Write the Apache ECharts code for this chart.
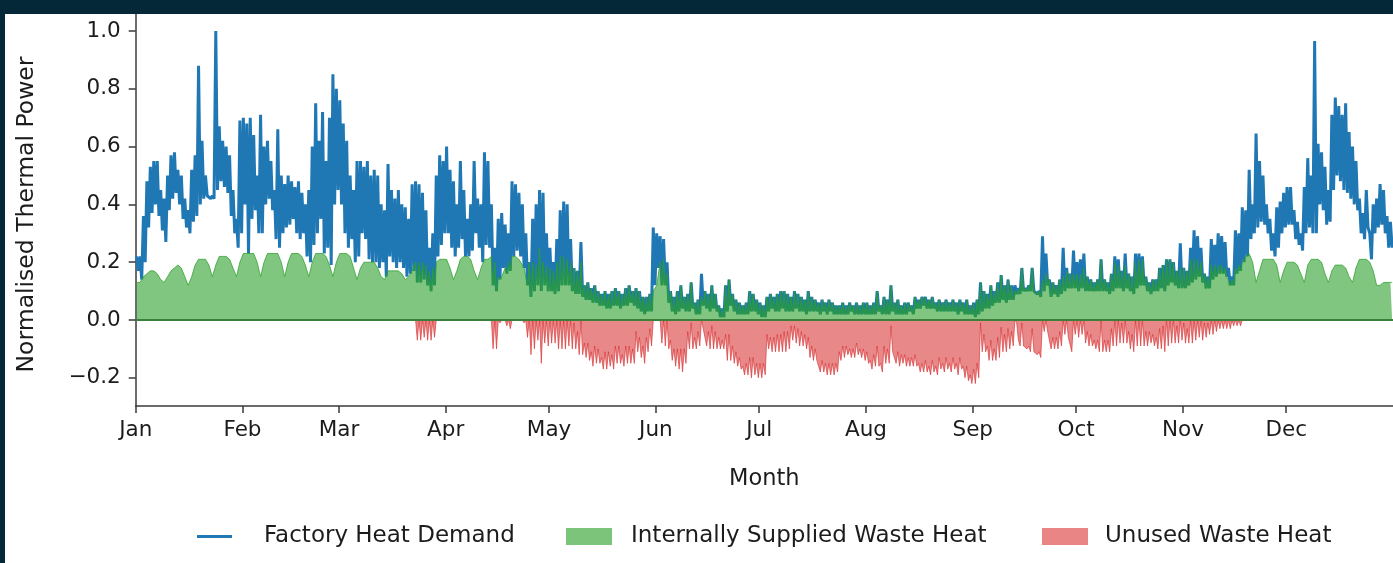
<!DOCTYPE html>
<html>
<head>
<meta charset="utf-8">
<script src="https://cdn.jsdelivr.net/npm/echarts@6/dist/echarts.min.js"></script>
<style>
  html, body { margin: 0; padding: 0; background: #ffffff; }
  #chart { width: 1393px; height: 563px; }
</style>
</head>
<body>
<div id="chart"></div>
<script>
// Month axis
const MONTHS = ['Jan', 'Feb', 'Mar', 'Apr', 'May', 'Jun', 'Jul', 'Aug', 'Sep', 'Oct', 'Nov', 'Dec'];
const MONTH_START_DAYS = [0, 31, 59, 90, 120, 151, 181, 212, 243, 273, 304, 334];
const Y_TICKS = [-0.2, 0, 0.2, 0.4, 0.6, 0.8, 1.0];

// Factory heat demand: daily peak and daily trough (normalised), one value per day
const demandPeak = [
  // Jan
  .22,.22,.36,.48,.53,.55,.55,.45,.42,.50,.57,.58,.52,.50,.42,.38,.52,.57,.88,.62,.50,.43,.43,1.0,.67,.62,.60,.57,.45,.35,.69,
  // Feb
  .70,.68,.70,.64,.50,.71,.60,.62,.55,.45,.66,.50,.47,.50,.48,.46,.48,.44,.40,.45,.60,.75,.62,.72,.55,.70,.85,.80,
  // Mar
  .76,.68,.62,.50,.45,.55,.55,.53,.55,.50,.52,.50,.40,.38,.54,.45,.42,.45,.40,.39,.35,.47,.48,.47,.44,.38,.25,.30,.50,.57,.55,
  // Apr
  .60,.52,.48,.40,.55,.45,.35,.40,.55,.42,.40,.58,.55,.40,.25,.35,.37,.33,.30,.48,.47,.44,.40,.30,.20,.35,.40,.45,.44,.30,
  // May
  .25,.20,.28,.38,.41,.40,.28,.18,.17,.27,.12,.13,.11,.12,.10,.09,.10,.09,.10,.11,.10,.09,.11,.12,.10,.11,.10,.08,.08,.09,.32,
  // Jun
  .30,.29,.28,.20,.10,.08,.10,.12,.08,.09,.13,.06,.07,.16,.10,.09,.12,.09,.05,.04,.12,.14,.09,.07,.06,.05,.06,.10,.09,.07,
  // Jul
  .06,.05,.08,.09,.08,.09,.10,.10,.09,.08,.10,.09,.08,.07,.10,.08,.07,.06,.07,.06,.07,.06,.05,.05,.06,.05,.06,.05,.06,.05,.06,
  // Aug
  .06,.05,.06,.10,.05,.08,.07,.12,.06,.07,.05,.06,.06,.05,.08,.07,.08,.08,.07,.08,.06,.07,.06,.07,.06,.07,.06,.07,.06,.07,.05,
  // Sep
  .06,.07,.13,.10,.09,.12,.10,.13,.155,.12,.14,.12,.12,.11,.18,.11,.12,.18,.10,.10,.29,.23,.14,.13,.12,.14,.25,.18,.16,.24,
  // Oct
  .20,.21,.23,.15,.14,.13,.14,.21,.14,.13,.16,.22,.21,.17,.23,.16,.15,.23,.23,.22,.15,.13,.14,.14,.18,.19,.21,.21,.20,.17,.265,
  // Nov
  .18,.17,.25,.31,.29,.25,.16,.15,.28,.26,.30,.29,.27,.18,.15,.31,.30,.39,.38,.52,.40,.645,.55,.50,.40,.35,.30,.39,.41,.44,
  // Dec
  .46,.46,.38,.34,.30,.46,.56,.50,.965,.61,.58,.53,.45,.71,.77,.74,.71,.75,.65,.60,.55,.42,.37,.45,.30,.40,.42,.47,.45,.36,.34
];

const demandTrough = [
  // Jan
  .17,.14,.20,.32,.37,.40,.36,.31,.27,.38,.42,.44,.40,.35,.32,.30,.34,.36,.40,.42,.43,.42,.42,.45,.48,.46,.44,.36,.30,.25,.30,
  // Feb
  .40,.23,.35,.38,.30,.30,.40,.42,.38,.28,.25,.30,.32,.33,.35,.30,.28,.30,.22,.20,.26,.30,.35,.23,.25,.19,.40,.45,
  // Mar
  .40,.30,.25,.28,.20,.22,.30,.28,.21,.20,.20,.18,.20,.15,.22,.20,.18,.20,.18,.15,.16,.17,.13,.13,.14,.12,.10,.12,.22,.26,.30,
  // Apr
  .30,.25,.22,.25,.28,.22,.22,.24,.30,.25,.20,.26,.25,.12,.10,.14,.18,.16,.17,.22,.24,.22,.18,.12,.08,.10,.12,.10,.12,.10,
  // May
  .10,.09,.10,.12,.12,.12,.10,.09,.09,.08,.07,.07,.06,.06,.05,.05,.04,.04,.05,.05,.04,.05,.05,.06,.05,.04,.03,.02,.03,.03,.12,
  // Jun
  .18,.12,.12,.06,.03,.02,.03,.04,.03,.03,.04,.02,.02,.05,.04,.03,.04,.03,.01,.01,.03,.05,.03,.02,.02,.02,.02,.03,.03,.02,
  // Jul
  .01,.01,.03,.04,.03,.03,.04,.03,.03,.03,.04,.03,.03,.02,.03,.03,.03,.02,.03,.02,.03,.02,.02,.02,.02,.02,.03,.02,.02,.02,.02,
  // Aug
  .02,.02,.02,.03,.02,.02,.02,.03,.02,.02,.02,.02,.03,.02,.04,.04,.05,.04,.04,.04,.03,.03,.03,.03,.03,.03,.02,.03,.02,.02,.02,
  // Sep
  .01,.02,.03,.04,.04,.05,.06,.06,.07,.06,.07,.07,.09,.09,.10,.10,.10,.10,.09,.08,.10,.12,.08,.09,.08,.09,.10,.11,.11,.11,
  // Oct
  .10,.11,.10,.10,.10,.10,.10,.10,.10,.09,.10,.11,.11,.10,.11,.10,.09,.11,.12,.12,.10,.09,.10,.10,.11,.10,.12,.13,.12,.11,.11,
  // Nov
  .11,.12,.13,.14,.15,.13,.11,.11,.14,.15,.16,.16,.15,.12,.12,.16,.17,.20,.22,.28,.30,.32,.34,.33,.30,.24,.22,.25,.30,.32,
  // Dec
  .33,.33,.28,.26,.24,.30,.32,.30,.30,.40,.38,.33,.34,.45,.50,.48,.45,.44,.42,.40,.38,.30,.28,.32,.21,.30,.32,.33,.30,.25,.25
];

// Waste heat available from the process, one value per day
const wasteHeat = [
  // Jan
  .13,.13,.15,.16,.17,.17,.16,.14,.13,.15,.17,.18,.19,.18,.15,.12,.15,.19,.21,.21,.21,.19,.15,.19,.22,.22,.22,.21,.18,.15,.20,
  // Feb
  .23,.23,.23,.23,.20,.15,.20,.23,.23,.23,.23,.20,.15,.20,.23,.23,.23,.22,.19,.15,.20,.23,.23,.23,.22,.19,.15,.20,
  // Mar
  .23,.23,.23,.22,.18,.14,.18,.20,.20,.20,.20,.18,.15,.14,.17,.17,.17,.17,.16,.14,.15,.17,.20,.20,.20,.19,.17,.18,.20,.21,.21,
  // Apr
  .21,.18,.14,.17,.21,.22,.22,.21,.17,.14,.18,.21,.21,.22,.20,.15,.15,.18,.20,.22,.22,.21,.19,.18,.20,.20,.19,.25,.20,.19,
  // May
  .18,.17,.20,.22,.22,.21,.20,.19,.21,.20,.20,.21,.22,.21,.20,.22,.21,.20,.22,.20,.19,.21,.20,.21,.20,.15,.16,.17,.14,.12,.10,
  // Jun
  .12,.20,.21,.16,.17,.18,.20,.22,.18,.13,.14,.12,.11,.08,.13,.13,.14,.13,.11,.11,.17,.19,.18,.18,.19,.21,.21,.23,.22,.22,
  // Jul
  .21,.20,.13,.15,.14,.14,.15,.14,.13,.10,.12,.12,.12,.12,.16,.17,.17,.20,.21,.21,.22,.21,.20,.16,.15,.14,.16,.15,.14,.15,.16,
  // Aug
  .17,.19,.18,.19,.20,.17,.17,.14,.17,.18,.17,.18,.19,.18,.20,.22,.23,.22,.23,.22,.22,.20,.21,.20,.21,.20,.21,.20,.22,.23,.24,
  // Sep
  .23,.22,.14,.15,.18,.19,.20,.19,.18,.17,.17,.16,.10,.18,.19,.20,.21,.21,.21,.21,.14,.16,.18,.19,.18,.18,.15,.17,.22,.16,
  // Oct
  .16,.16,.18,.19,.19,.20,.21,.21,.21,.20,.19,.20,.19,.18,.19,.20,.20,.20,.21,.21,.19,.17,.19,.20,.21,.21,.21,.21,.20,.19,.18,
  // Nov
  .19,.20,.21,.21,.21,.20,.17,.16,.19,.19,.19,.19,.18,.15,.14,.18,.19,.20,.22,.23,.20,.13,.17,.21,.21,.21,.21,.19,.13,.17,
  // Dec
  .20,.20,.20,.19,.16,.13,.19,.21,.21,.21,.20,.16,.13,.17,.19,.19,.19,.18,.15,.13,.18,.21,.21,.21,.20,.17,.12,.12,.13,.13,.13
];

// Two samples per day (peak, trough); split waste heat into the part that covers demand and the surplus
const demandSeries = [];
const suppliedSeries = [];
const unusedSeries = [];
for (let d = 0; d < demandPeak.length; d++) {
  const samples = [[d + 0.25, demandPeak[d]], [d + 0.75, demandTrough[d]]];
  for (const [x, demand] of samples) {
    const waste = wasteHeat[d];
    demandSeries.push([x, demand]);
    suppliedSeries.push([x, Math.min(demand, waste)]);
    unusedSeries.push([x, -Math.max(waste - demand, 0)]);
  }
}

const FONT = 'DejaVu Sans';
const TEXT_COLOR = '#1c1c1c';
const AXIS_COLOR = '#3a3a3a';
const FRAME_COLOR = '#052838';
const BLUE = '#1f77b4';

const fmtY = v => (v < 0 ? '\u2212' + Math.abs(v).toFixed(1) : v.toFixed(1));

const chart = echarts.init(document.getElementById('chart'), null, { renderer: 'canvas' });

const legendText = { fontFamily: FONT, fontSize: 23, color: TEXT_COLOR };

chart.setOption({
  animation: false,
  backgroundColor: '#ffffff',
  grid: { left: 135.7, top: 13, width: 1263, height: 393, containLabel: false },
  xAxis: {
    type: 'value',
    min: 0,
    max: 365,
    name: 'Month',
    nameLocation: 'middle',
    nameGap: 62,
    nameTextStyle: { fontFamily: FONT, fontSize: 22.5, color: TEXT_COLOR },
    axisLine: { show: true, onZero: false, lineStyle: { color: AXIS_COLOR, width: 1.5 } },
    axisTick: { show: true, length: 7, customValues: MONTH_START_DAYS, lineStyle: { color: AXIS_COLOR, width: 1.5 } },
    axisLabel: {
      customValues: MONTH_START_DAYS,
      margin: 13,
      fontFamily: FONT,
      fontSize: 21.5,
      color: TEXT_COLOR,
      formatter: v => MONTHS[MONTH_START_DAYS.indexOf(Math.round(v))] || ''
    },
    splitLine: { show: false }
  },
  yAxis: {
    type: 'value',
    min: -0.2976,
    max: 1.0623,
    name: 'Normalised Thermal Power',
    nameLocation: 'middle',
    nameGap: 97,
    nameTextStyle: { fontFamily: FONT, fontSize: 23.5, color: TEXT_COLOR, padding: [0, 10, 0, 0] },
    axisLine: { show: true, lineStyle: { color: AXIS_COLOR, width: 1.5 } },
    axisTick: { show: true, length: 7, customValues: Y_TICKS, lineStyle: { color: AXIS_COLOR, width: 1.5 } },
    axisLabel: {
      customValues: Y_TICKS,
      margin: 15,
      fontFamily: FONT,
      fontSize: 21.5,
      color: TEXT_COLOR,
      formatter: fmtY
    },
    splitLine: { show: false }
  },
  legend: [
    {
      data: [{ name: 'Factory Heat Demand', icon: 'rect', itemStyle: { color: BLUE } }],
      left: 192, top: 520,
      itemWidth: 35, itemHeight: 3,
      textStyle: Object.assign({ padding: [0, 0, 0, 27] }, legendText)
    },
    {
      data: [{ name: 'Internally Supplied Waste Heat', icon: 'rect', itemStyle: { color: '#7cc47a' } }],
      left: 561, top: 520,
      itemWidth: 46, itemHeight: 17,
      textStyle: Object.assign({ padding: [0, 0, 0, 14] }, legendText)
    },
    {
      data: [{ name: 'Unused Waste Heat', icon: 'rect', itemStyle: { color: '#e98585' } }],
      left: 1037, top: 520,
      itemWidth: 46, itemHeight: 17,
      textStyle: Object.assign({ padding: [0, 0, 0, 12] }, legendText)
    }
  ],
  series: [
    {
      name: 'Factory Heat Demand',
      type: 'line',
      data: demandSeries,
      showSymbol: false,
      symbol: 'none',
      color: BLUE,
      lineStyle: { color: BLUE, width: 3 },
      z: 2,
      silent: true
    },
    {
      name: 'Internally Supplied Waste Heat',
      type: 'line',
      data: suppliedSeries,
      showSymbol: false,
      symbol: 'none',
      color: '#2ca02c',
      lineStyle: { color: '#2ca02c', width: 1, opacity: 0.75 },
      areaStyle: { color: '#2ca02c', opacity: 0.6 },
      markLine: {
        silent: true,
        symbol: 'none',
        label: { show: false },
        lineStyle: { color: '#3b7f3b', width: 1.8, type: 'solid' },
        data: [{ yAxis: 0 }]
      },
      z: 3,
      silent: true
    },
    {
      name: 'Unused Waste Heat',
      type: 'line',
      data: unusedSeries,
      showSymbol: false,
      symbol: 'none',
      color: '#d62728',
      lineStyle: { color: '#d62728', width: 1, opacity: 0.6 },
      areaStyle: { color: '#d62728', opacity: 0.55 },
      z: 3,
      silent: true
    }
  ],
  graphic: [
    { type: 'rect', z: 100, silent: true, shape: { x: 0, y: 0, width: 1393, height: 14 }, style: { fill: FRAME_COLOR } },
    { type: 'rect', z: 100, silent: true, shape: { x: 0, y: 0, width: 5, height: 563 }, style: { fill: FRAME_COLOR } }
  ]
});
</script>
</body>
</html>
